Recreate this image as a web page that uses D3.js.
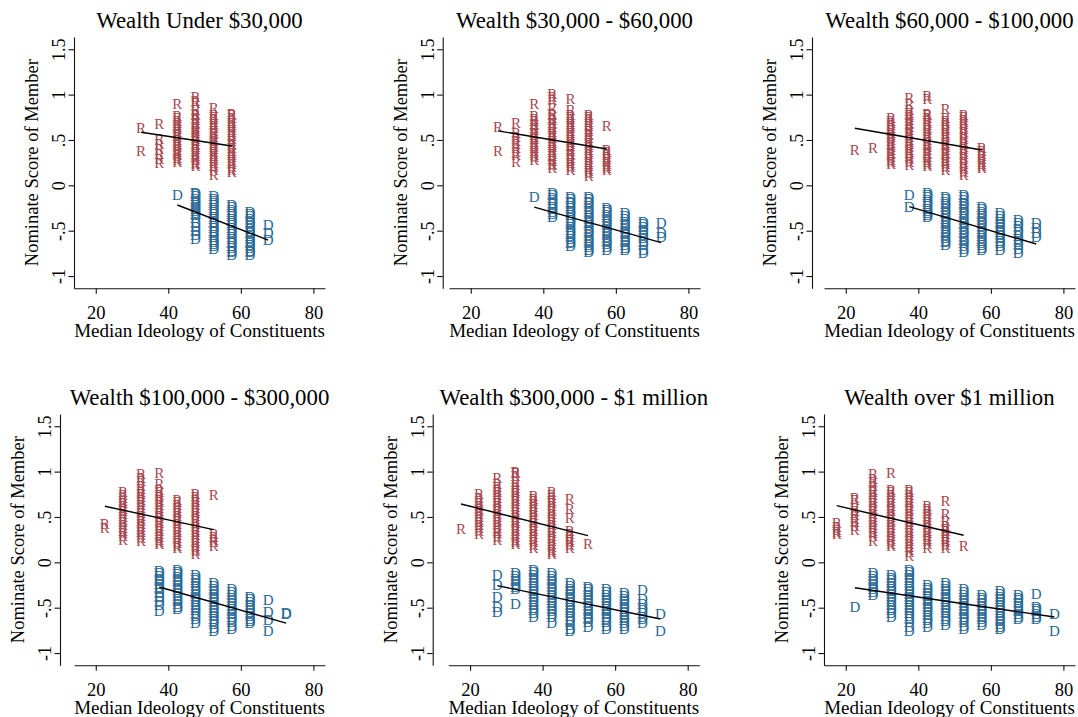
<!DOCTYPE html>
<meta charset="utf-8">
<style>
  body { margin: 0; background: #fff; }
</style>
<body></body>
<script src="https://d3js.org/d3.v7.min.js"></script>
<script>
  // panel titles
  const titles = [
    'Wealth Under $30,000',
    'Wealth $30,000 - $60,000',
    'Wealth $60,000 - $100,000',
    'Wealth $100,000 - $300,000',
    'Wealth $300,000 - $1 million',
    'Wealth over $1 million'
  ]

  const xTicks = [20, 40, 60, 80]
  const yTicks = [-1, -0.5, 0, 0.5, 1, 1.5]
  const yTickLabels = ['-1', '-.5', '0', '.5', '1', '1.5']

  // each entry: [median ideology, [nominate scores]]
  const p1Rep = [
    [32.5, [.63, .38]],
    [37.5, [.67, .51, .45, .40, .35, .29, .25]],
    [42.5, [.90, .76, .74, .71, .69, .66, .64, .62, .59, .57, .55, .53, .50, .48, .46, .44, .42, .39, .37, .35, .33, .30, .28, .26]],
    [47.5, [.97, .93, .91, .83, .79, .77, .74, .72, .69, .67, .64, .62, .60, .58, .55, .53, .51, .49, .46, .44, .42, .40, .37, .35, .32, .30, .28, .25, .23, .21]],
    [52.5, [.85, .78, .75, .73, .70, .68, .65, .63, .60, .58, .56, .53, .51, .49, .47, .44, .42, .40, .37, .35, .32, .30, .28, .25, .22, .20, .17, .11]],
    [57.5, [.79, .77, .74, .71, .69, .66, .64, .61, .59, .56, .54, .51, .49, .46, .44, .41, .38, .36, .33, .31, .28, .26, .23, .20, .17, .15]]
  ]
  const p1Dem = [
    [42.5, [-.11]],
    [47.5, [-.08, -.10, -.12, -.15, -.17, -.19, -.22, -.24, -.26, -.28, -.31, -.33, -.36, -.42, -.46, -.50, -.55, -.59]],
    [52.5, [-.12, -.15, -.17, -.20, -.22, -.25, -.27, -.30, -.32, -.35, -.37, -.40, -.42, -.45, -.47, -.50, -.52, -.55, -.57, -.60, -.62, -.65, -.67, -.70]],
    [57.5, [-.22, -.24, -.27, -.29, -.32, -.34, -.37, -.39, -.42, -.44, -.47, -.49, -.52, -.54, -.57, -.59, -.62, -.64, -.67, -.69, -.72, -.74, -.77]],
    [62.5, [-.29, -.32, -.34, -.37, -.40, -.42, -.45, -.48, -.50, -.53, -.56, -.58, -.61, -.64, -.66, -.69, -.72, -.74, -.77]],
    [67.5, [-.44, -.53, -.60]]
  ]

  const p2Rep = [
    [27.5, [.64, .38]],
    [32.5, [.69, .58, .53, .49, .45, .41, .37, .33, .26]],
    [37.5, [.90, .76, .73, .71, .68, .66, .63, .61, .58, .56, .53, .51, .48, .46, .43, .41, .38, .36, .33, .31, .28]],
    [42.5, [1.01, .97, .94, .85, .79, .77, .74, .72, .69, .67, .64, .62, .59, .57, .54, .52, .49, .47, .44, .42, .39, .37, .34, .32, .29, .27, .24, .22, .19]],
    [47.5, [.95, .83, .78, .75, .73, .70, .68, .65, .63, .60, .58, .55, .53, .50, .48, .45, .43, .40, .38, .35, .33, .30, .28, .25, .22, .20, .17]],
    [52.5, [.78, .75, .73, .70, .67, .65, .62, .60, .57, .55, .52, .49, .47, .44, .42, .39, .37, .34, .31, .29, .26, .24, .21, .18, .16, .13, .10]],
    [57.5, [.65, .39, .37, .34, .31, .29, .26, .24, .21, .19, .17]]
  ]
  const p2Dem = [
    [37.5, [-.13]],
    [42.5, [-.09, -.11, -.14, -.16, -.19, -.21, -.24, -.26, -.29, -.32, -.35]],
    [47.5, [-.13, -.15, -.18, -.20, -.23, -.25, -.28, -.31, -.33, -.36, -.38, -.41, -.43, -.46, -.49, -.51, -.54, -.56, -.59, -.62, -.64, -.67]],
    [52.5, [-.13, -.15, -.18, -.20, -.23, -.26, -.28, -.31, -.34, -.36, -.39, -.42, -.44, -.47, -.50, -.52, -.55, -.58, -.60, -.63, -.66, -.68, -.71, -.73]],
    [57.5, [-.25, -.27, -.30, -.33, -.35, -.38, -.41, -.43, -.46, -.49, -.52, -.54, -.57, -.60, -.62, -.65, -.68, -.71]],
    [62.5, [-.31, -.34, -.37, -.40, -.43, -.45, -.48, -.51, -.54, -.57, -.60, -.63, -.66, -.69, -.71]],
    [67.5, [-.40, -.43, -.46, -.49, -.52, -.55, -.58, -.62, -.66, -.71, -.75]],
    [72.5, [-.42, -.53, -.57]]
  ]

  const p3Rep = [
    [22.5, [.39]],
    [27.5, [.41]],
    [32.5, [.74, .71, .69, .66, .63, .61, .58, .55, .53, .50, .47, .44, .42, .39, .36, .34, .31, .28, .26, .24]],
    [37.5, [.96, .90, .83, .80, .77, .75, .72, .69, .67, .64, .61, .58, .56, .53, .50, .48, .45, .42, .39, .37, .34, .31, .29, .26, .22]],
    [42.5, [.98, .95, .79, .77, .74, .71, .69, .66, .63, .61, .58, .55, .53, .50, .47, .44, .42, .39, .36, .34, .31, .28, .26, .23, .21]],
    [47.5, [.84, .74, .71, .69, .66, .63, .61, .58, .55, .53, .50, .47, .44, .42, .39, .36, .34, .31, .28, .26, .23, .20, .17]],
    [52.5, [.78, .75, .72, .70, .67, .64, .62, .59, .56, .53, .51, .48, .45, .42, .40, .37, .34, .31, .29, .26, .23, .20, .18, .15, .11]],
    [57.5, [.41, .38, .35, .32, .29, .26, .23, .21, .19]]
  ]
  const p3Dem = [
    [37.5, [-.11, -.24]],
    [42.5, [-.09, -.11, -.13, -.16, -.18, -.21, -.23, -.26, -.28, -.31, -.33, -.35]],
    [47.5, [-.13, -.15, -.18, -.21, -.23, -.26, -.29, -.31, -.34, -.37, -.39, -.42, -.45, -.47, -.50, -.53, -.55, -.58, -.61, -.63, -.66]],
    [52.5, [-.11, -.13, -.16, -.19, -.21, -.24, -.27, -.29, -.32, -.35, -.37, -.40, -.43, -.45, -.48, -.51, -.53, -.56, -.59, -.61, -.64, -.67, -.70, -.73]],
    [57.5, [-.24, -.26, -.29, -.32, -.34, -.37, -.40, -.42, -.45, -.48, -.50, -.53, -.56, -.58, -.61, -.64, -.66, -.69, -.71]],
    [62.5, [-.31, -.34, -.37, -.40, -.43, -.46, -.49, -.52, -.55, -.58, -.61, -.64, -.67, -.71]],
    [67.5, [-.38, -.42, -.45, -.49, -.52, -.56, -.59, -.63, -.66, -.70, -.75]],
    [72.5, [-.42, -.47, -.53, -.57]]
  ]

  const p4Rep = [
    [22.5, [.42, .38]],
    [27.5, [.77, .74, .71, .68, .65, .62, .59, .56, .53, .50, .47, .44, .41, .38, .35, .32, .29, .25]],
    [32.5, [.97, .93, .90, .84, .81, .78, .75, .72, .69, .66, .63, .60, .57, .54, .51, .48, .45, .42, .39, .36, .33, .30, .27, .23]],
    [37.5, [.98, .86, .80, .77, .74, .72, .69, .66, .63, .60, .57, .54, .51, .49, .46, .43, .40, .37, .34, .31, .28, .25, .22, .20]],
    [42.5, [.69, .66, .63, .60, .57, .54, .51, .48, .45, .42, .39, .36, .33, .30, .27, .24, .21, .18, .16]],
    [47.5, [.75, .72, .69, .66, .63, .60, .57, .54, .51, .48, .45, .42, .39, .36, .33, .30, .27, .24, .21, .18, .15, .12, .09]],
    [52.5, [.74, .31, .28, .25, .22, .18]]
  ]
  const p4Dem = [
    [37.5, [-.10, -.12, -.15, -.18, -.21, -.24, -.27, -.30, -.34, -.38, -.43, -.47, -.54]],
    [42.5, [-.08, -.11, -.13, -.16, -.19, -.22, -.25, -.28, -.31, -.34, -.37, -.40, -.43, -.46, -.49, -.52]],
    [47.5, [-.14, -.17, -.20, -.23, -.26, -.29, -.32, -.35, -.38, -.41, -.44, -.47, -.50, -.53, -.56, -.59, -.62, -.67]],
    [52.5, [-.23, -.26, -.29, -.32, -.35, -.38, -.41, -.44, -.47, -.50, -.53, -.56, -.59, -.62, -.65, -.68, -.72, -.76]],
    [57.5, [-.30, -.33, -.36, -.39, -.42, -.45, -.48, -.51, -.54, -.57, -.60, -.63, -.66, -.70, -.74]],
    [62.5, [-.38, -.41, -.44, -.47, -.50, -.53, -.56, -.59, -.62, -.65, -.67]],
    [67.5, [-.42, -.55, -.64, -.76]],
    [72.5, [-.57, -.56]]
  ]

  const p5Rep = [
    [17.5, [.37]],
    [22.5, [.75, .71, .68, .65, .62, .59, .56, .53, .50, .47, .44, .41, .38, .34, .31]],
    [27.5, [.93, .86, .83, .80, .77, .74, .71, .68, .65, .62, .59, .56, .53, .50, .47, .44, .41, .38, .35, .32, .28, .25]],
    [32.5, [1.0, .98, .95, .88, .85, .82, .79, .76, .73, .70, .67, .64, .61, .58, .55, .52, .49, .46, .43, .40, .37, .34, .31, .28, .25, .22, .20]],
    [37.5, [.73, .70, .67, .64, .61, .58, .55, .52, .49, .46, .43, .40, .37, .34, .31, .28, .25, .22, .19, .16]],
    [42.5, [.77, .74, .71, .68, .65, .62, .59, .56, .53, .50, .47, .44, .41, .38, .35, .32, .29, .26, .23, .20, .17, .14, .11, .09]],
    [47.5, [.70, .59, .49, .34, .31, .28, .25, .22, .19, .16]],
    [52.5, [.20]]
  ]
  const p5Dem = [
    [27.5, [-.14, -.25, -.38, -.49, -.55]],
    [32.5, [-.12, -.15, -.18, -.21, -.24, -.27, -.30, -.46]],
    [37.5, [-.08, -.11, -.14, -.17, -.20, -.23, -.26, -.29, -.32, -.35, -.38, -.41, -.44, -.47, -.50, -.53, -.56, -.60]],
    [42.5, [-.12, -.15, -.18, -.21, -.24, -.27, -.30, -.33, -.36, -.39, -.42, -.45, -.48, -.51, -.54, -.57, -.60, -.67]],
    [47.5, [-.23, -.26, -.29, -.32, -.35, -.38, -.41, -.44, -.47, -.50, -.53, -.56, -.59, -.62, -.65, -.69, -.73, -.76]],
    [52.5, [-.27, -.30, -.33, -.36, -.39, -.42, -.45, -.48, -.51, -.54, -.57, -.60, -.63, -.66, -.71]],
    [57.5, [-.30, -.33, -.36, -.39, -.42, -.45, -.48, -.51, -.54, -.57, -.60, -.63, -.66, -.70, -.74]],
    [62.5, [-.34, -.37, -.40, -.43, -.46, -.49, -.52, -.55, -.58, -.61, -.64, -.67, -.70, -.74]],
    [67.5, [-.31, -.40, -.46, -.50, -.53, -.56, -.60, -.63, -.67]],
    [72.5, [-.57, -.76]]
  ]

  const p6Rep = [
    [17.5, [.43, .39, .36, .33, .31]],
    [22.5, [.71, .69, .60, .56, .52, .48, .44, .40, .36]],
    [27.5, [.97, .92, .88, .84, .80, .77, .74, .71, .68, .65, .62, .59, .56, .53, .50, .47, .44, .41, .38, .35, .32, .29, .23]],
    [32.5, [.98, .80, .77, .74, .71, .68, .65, .62, .59, .56, .53, .50, .47, .44, .41, .38, .35, .32, .29, .26, .23, .20, .18]],
    [37.5, [.80, .77, .74, .71, .68, .65, .62, .59, .56, .53, .50, .47, .44, .41, .38, .35, .32, .29, .26, .23, .20, .17, .14, .11, .07]],
    [42.5, [.62, .59, .56, .53, .50, .47, .44, .41, .38, .35, .32, .29, .26, .23, .20, .16]],
    [47.5, [.67, .53, .45, .40, .37, .34, .31, .28, .25, .22, .19, .16]],
    [52.5, [.18]]
  ]
  const p6Dem = [
    [22.5, [-.49]],
    [27.5, [-.12, -.15, -.18, -.21, -.24, -.27, -.30, -.33, -.36]],
    [32.5, [-.14, -.17, -.20, -.23, -.26, -.29, -.32, -.35, -.38, -.41, -.44, -.47, -.50, -.53, -.56, -.60]],
    [37.5, [-.08, -.11, -.14, -.17, -.20, -.23, -.26, -.29, -.32, -.35, -.38, -.41, -.44, -.47, -.50, -.53, -.56, -.59, -.62, -.66, -.71, -.76]],
    [42.5, [-.25, -.28, -.31, -.34, -.37, -.40, -.43, -.46, -.49, -.52, -.55, -.58, -.61, -.64, -.67, -.71]],
    [47.5, [-.23, -.26, -.29, -.32, -.35, -.38, -.41, -.44, -.47, -.50, -.53, -.56, -.59, -.62, -.65, -.69]],
    [52.5, [-.30, -.33, -.36, -.39, -.42, -.45, -.48, -.51, -.54, -.57, -.60, -.63, -.66, -.70, -.74]],
    [57.5, [-.36, -.39, -.42, -.45, -.48, -.51, -.54, -.57, -.60, -.63, -.66, -.69]],
    [62.5, [-.32, -.35, -.38, -.41, -.44, -.47, -.50, -.53, -.56, -.59, -.62, -.65, -.68, -.71, -.74]],
    [67.5, [-.36, -.39, -.42, -.45, -.48, -.51, -.54, -.57, -.60, -.63]],
    [72.5, [-.35, -.49, -.51, -.54, -.57, -.60, -.63]],
    [77.5, [-.57, -.76]]
  ]

  // fitted lines: [x1, y1, x2, y2]
  const repFits = [
    [32.5, .585, 57.5, .434],
    [27.5, .60, 57.5, .40],
    [22.5, .629, 57.5, .39],
    [22.5, .618, 52.5, .36],
    [17.5, .643, 52.5, .294],
    [17.5, .625, 52.5, .298]
  ]
  const demFits = [
    [42.5, -.217, 67.5, -.603],
    [37.5, -.24, 72.5, -.632],
    [37.5, -.235, 72.5, -.647],
    [37.5, -.272, 72.5, -.67],
    [27.5, -.257, 72.5, -.625],
    [22.5, -.28, 77.5, -.603]
  ]

  const repData = [p1Rep, p2Rep, p3Rep, p4Rep, p5Rep, p6Rep]
  const demData = [p1Dem, p2Dem, p3Dem, p4Dem, p5Dem, p6Dem]

  // layout of each panel (plot left, plot top, y axis line x)
  const layout = [
    { left: 74, top: 37, axisX: 74 },
    { left: 449, top: 37, axisX: 442.7 },
    { left: 824, top: 37, axisX: 812 },
    { left: 74, top: 414, axisX: 60 },
    { left: 448.3, top: 414, axisX: 432.7 },
    { left: 824, top: 414, axisX: 824 }
  ]
  const plotW = 251
  const plotH = 251.3
  const font = '"Liberation Serif", "Times New Roman", serif'
  const repColor = '#a8484f'
  const demColor = '#2a6896'

  const svg = d3.select('body')
    .append('svg')
    .attr('width', 1078)
    .attr('height', 717)
    .style('font-family', font)

  const flatten = cols => cols.flatMap(([x, ys]) => ys.map(y => ({ x, y })))

  titles.forEach((title, i) => {
    const L = layout[i]

    const x = d3.scaleLinear().domain([14, 83.2]).range([L.left, L.left + plotW])
    const y = d3.scaleLinear().domain([-1.135, 1.635]).range([L.top + plotH, L.top])

    const g = svg.append('g')

    // title
    g.append('text')
      .attr('x', L.left + plotW / 2)
      .attr('y', L.top - 9.5)
      .attr('text-anchor', 'middle')
      .attr('font-size', 22.8)
      .text(title)

    // y axis
    const yAxis = d3.axisLeft(y)
      .tickValues(yTicks)
      .tickFormat((d, k) => yTickLabels[k])
      .tickSize(5.5)
      .tickSizeOuter(0)
    const ya = g.append('g')
      .attr('transform', `translate(${L.axisX},0)`)
      .call(yAxis)
    ya.selectAll('text')
      .attr('transform', 'rotate(-90)')
      .attr('x', 0)
      .attr('y', -9)
      .attr('dy', 0)
      .attr('text-anchor', 'middle')
      .attr('font-size', 18)
      .attr('font-family', font)
      .attr('fill', '#000')

    // x axis
    const xAxis = d3.axisBottom(x)
      .tickValues(xTicks)
      .tickSize(5.5)
      .tickSizeOuter(0)
    const xa = g.append('g')
      .attr('transform', `translate(0,${L.top + plotH})`)
      .call(xAxis)
    xa.selectAll('text')
      .attr('y', 30.7)
      .attr('dy', 0)
      .attr('font-size', 18.5)
      .attr('font-family', font)
      .attr('fill', '#000')

    svg.selectAll('.domain, .tick line').attr('stroke', '#111').attr('stroke-width', 1.1)

    // axis titles
    g.append('text')
      .attr('x', L.left + plotW / 2)
      .attr('y', L.top + plotH + 48.5)
      .attr('text-anchor', 'middle')
      .attr('font-size', 19)
      .text('Median Ideology of Constituents')

    g.append('text')
      .attr('transform', `translate(${L.axisX - 36},${L.top + plotH / 2}) rotate(-90)`)
      .attr('text-anchor', 'middle')
      .attr('font-size', 18.5)
      .text('Nominate Score of Member')

    // markers
    const marks = (pts, letter, color) => {
      g.append('g')
        .selectAll('text')
        .data(pts)
        .enter().append('text')
        .attr('x', d => x(d.x))
        .attr('y', d => y(d.y))
        .attr('dy', '0.33em')
        .attr('text-anchor', 'middle')
        .attr('font-size', 15)
        .attr('fill', color)
        .text(letter)
    }
    marks(flatten(repData[i]), 'R', repColor)
    marks(flatten(demData[i]), 'D', demColor)

    // fit lines
    const fits = [repFits[i], demFits[i]]
    g.append('g')
      .selectAll('line')
      .data(fits)
      .enter().append('line')
      .attr('x1', d => x(d[0]))
      .attr('y1', d => y(d[1]))
      .attr('x2', d => x(d[2]))
      .attr('y2', d => y(d[3]))
      .attr('stroke', '#000')
      .attr('stroke-width', 1.4)
  })
</script>
